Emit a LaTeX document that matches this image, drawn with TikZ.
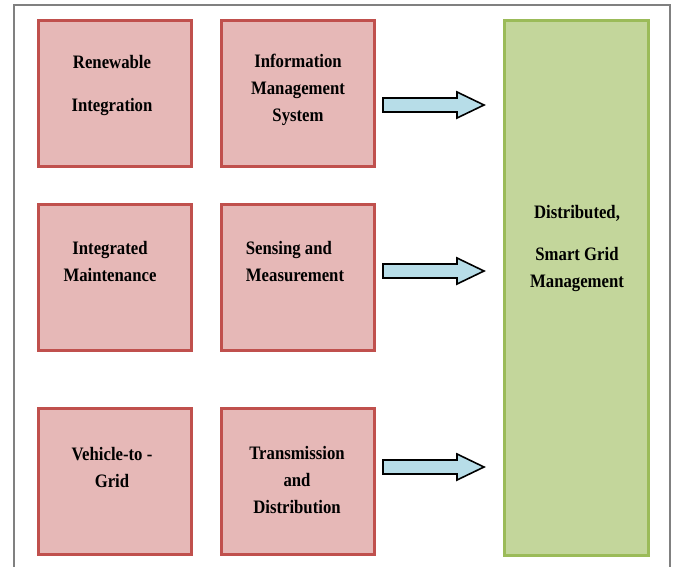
\documentclass[tikz,border=0pt]{standalone}
\usepackage{fontspec}
\setmainfont[BoldFeatures={FakeStretch=0.88}]{Liberation Serif}
\usetikzlibrary{positioning}
\definecolor{boxred}{HTML}{E6B8B7}
\definecolor{edgered}{HTML}{C0504D}
\definecolor{boxgreen}{HTML}{C3D69B}
\definecolor{edgegreen}{HTML}{9BBB59}
\definecolor{arrowblue}{HTML}{B7DDE8}
\newcommand{\blockarrow}{\draw[fill=arrowblue, draw=black, line width=1.6] (0,-7) -- (74,-7) -- (74,-13) -- (101,0) -- (74,13) -- (74,7) -- (0,7) -- cycle;}
\tikzset{
	redbox/.style={draw=edgered, fill=boxred, line width=3, minimum width=153, minimum height=146, inner sep=0},
	greenbox/.style={draw=edgegreen, fill=boxgreen, line width=3, minimum width=144, minimum height=535, inner sep=0},
	boxtext/.style={inner sep=0, align=center, font=\fontsize{19}{27}\selectfont\bfseries}
}

\begin{document}
\begin{tikzpicture}[x=1pt, y=-1pt]
				
					\useasboundingbox (0,0) rectangle (674,566);
					\clip (0,0) rectangle (674,566);
					
					% outer frame
					\draw[gray, line width=2] (14,5) rectangle (670,600);
					
					% the six source blocks
					\node[redbox] (renew) at (115,93.5) {};
					\node[redbox] (info) at (298,93.5) {};
					\node[redbox] (maint) at (115,277) {};
					\node[redbox] (sense) at (298,277) {};
					\node[redbox] (vtog) at (115,481.5) {};
					\node[redbox] (trans) at (298,481.5) {};
					
					\node[greenbox] (smart) at (576.5,288) {};
					
					\node[boxtext] (renewtext) at (112,85.5) {Renewable\\[16pt]Integration};
					\node[boxtext] (infotext) at (298,90) {Information\\Management\\System};
					\node[boxtext] (mainttext) at (110,261.5) {Integrated\\Maintenance};
					\node[boxtext, align=left] (sensetext) at (295,261.5) {Sensing and\\Measurement};
					\node[boxtext] (vtogtext) at (112,467) {Vehicle-to -\\Grid};
					\node[boxtext] (transtext) at (297,480) {Transmission\\and\\Distribution};
					\node[boxtext] (smarttext) at (577,248) {Distributed,\\[15pt]Smart Grid\\Management};
					
					% block arrows
					\begin{scope}[shift={(383,105)}]
						\blockarrow
					\end{scope}
					
					\begin{scope}[shift={(383,271)}]
						\blockarrow
					\end{scope}
					
					\begin{scope}[shift={(383,467)}]
						\blockarrow
					\end{scope}
										
				\end{tikzpicture}
\end{document}
